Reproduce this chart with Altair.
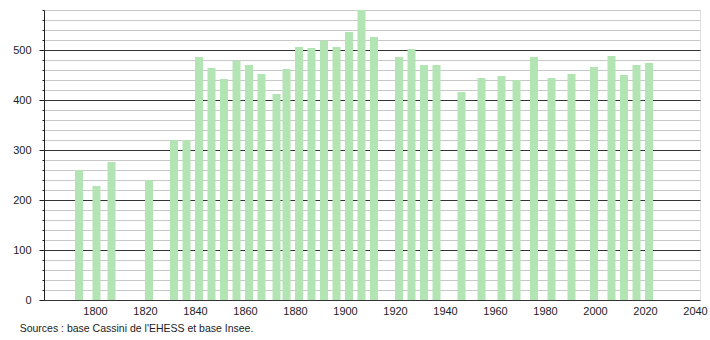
import altair as alt
import pandas as pd

years = [1793, 1800, 1806, 1821, 1831, 1836, 1841, 1846, 1851, 1856, 1861, 1866,
         1872, 1876, 1881, 1886, 1891, 1896, 1901, 1906, 1911, 1921, 1926, 1931,
         1936, 1946, 1954, 1962, 1968, 1975, 1982, 1990, 1999, 2006, 2011, 2016, 2021]
population = [260, 228, 276, 240, 320, 320, 486, 464, 442, 479, 470, 452,
              412, 462, 506, 504, 519, 506, 536, 580, 526, 486, 502, 470,
              470, 416, 444, 448, 440, 486, 444, 452, 466, 488, 450, 470, 474]

y_ticks = list(range(0, 581, 20))
x_ticks = list(range(1800, 2041, 20))

df = pd.DataFrame({"year": years, "pop": population})

font = "Liberation Sans"

bars = alt.Chart(df).mark_bar(color="#b3e4b3", size=8, xOffset=1.5, clip=True).encode(
    x=alt.X("year:Q",
            scale=alt.Scale(domain=[1779.6, 2042], nice=False, zero=False, padding=0),
            axis=alt.Axis(values=x_ticks, title=None, grid=False, ticks=False,
                          domain=False, labelFontSize=11, labelFont=font,
                          labelColor="#222", labelPadding=5, format="d",
                          labelFlush=False)),
    y=alt.Y("pop:Q",
            scale=alt.Scale(domain=[0, 580], nice=False),
            axis=alt.Axis(values=y_ticks, title=None, grid=True,
                          gridColor={"condition": {"test": "datum.value % 100 === 0", "value": "#333333"}, "value": "#c8c8c8"},
                          gridWidth=1,
                          tickSize={"condition": {"test": "datum.value % 100 === 0", "value": 5}, "value": 2},
                          tickColor="#222", domainColor="#222",
                          labelExpr="datum.value % 100 === 0 ? datum.label : ''",
                          labelFontSize=11, labelFont=font, labelColor="#222",
                          labelPadding=8)),
)

chart = bars.properties(
    width=656,
    height=290,
    padding={"left": 44, "top": 10, "right": 10, "bottom": 40},
    autosize=alt.AutoSizeParams(type="none"),
    title=alt.TitleParams("Sources : base Cassini de l'EHESS et base Insee.",
                          orient="bottom", anchor="start", dx=7, offset=8,
                          fontSize=10.5, font=font, fontWeight="normal", color="#222"),
).configure_view(stroke=None).configure(background="white")

chart.save("out.html", embed_options={"renderer": "svg", "actions": False})
